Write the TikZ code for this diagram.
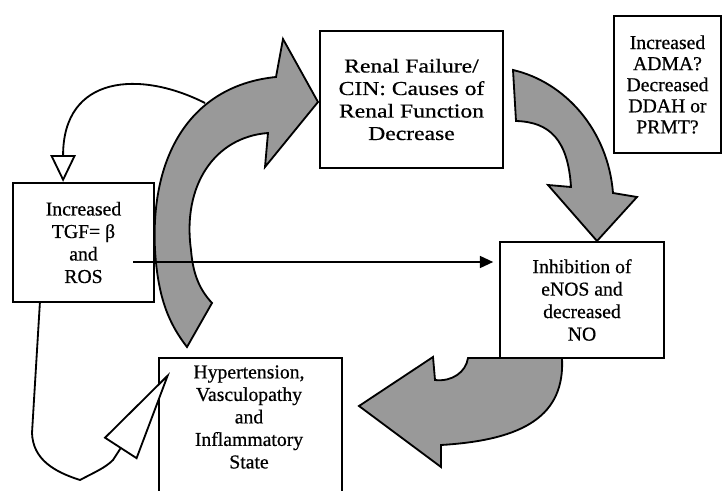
\documentclass[tikz,border=0pt]{standalone}
\usepackage{fontspec}
\setmainfont{Liberation Serif}[FakeBold=0.6]
\newfontfamily\widefont{Liberation Serif}[FakeBold=0.6, FakeStretch=1.2]
\usetikzlibrary{arrows.meta}

\tikzset{
  txt/.style={align=center, font=\fontsize{14}{16}\selectfont},
  box/.style={txt, draw, fill=white, line width=1.6pt},
  bigarrow/.style={fill=black!40, draw=black, line width=1.3pt},
  link/.style={line width=1.3pt}
}

\begin{document}
\begin{tikzpicture}[x=0.025cm, y=-0.025cm]
  \useasboundingbox (0,0) rectangle (722,491);
  \clip (0,0) rectangle (722,491);

  \filldraw[bigarrow] (187,347) .. controls (170,325) and (158,300) .. (155,250)
    .. controls (150,150) and (195,85) .. (276,77) -- (283,39) -- (318,102) -- (265,167) -- (268,133)
    .. controls (215,137) and (182,185) .. (191,250) .. controls (193,275) and (200,290) .. (212,303) -- cycle;
  \filldraw[bigarrow] (513,70) .. controls (565,82) and (608,130) .. (613,193) -- (637,197) -- (597,241)
    -- (548,185) -- (571,187) .. controls (568,140) and (550,122) .. (516,121) -- cycle;
  \filldraw[bigarrow] (359,406) -- (433,357) -- (435,380) .. controls (452,382) and (466,372) .. (468,358)
    -- (562,358) .. controls (565,415) and (525,440) .. (441,445) -- (441,467) -- cycle;

  \node[box, minimum width=4.575cm, minimum height=3.425cm, font=\widefont\fontsize{14}{16}\selectfont] (renal) at (411.5,99.5) {Renal Failure/\\CIN: Causes of\\Renal Function\\Decrease};
  \node[box, minimum width=2.675cm, minimum height=3.425cm, font=\fontsize{14}{15}\selectfont] (adma) at (667.5,84.5) {Increased\\ADMA?\\Decreased\\DDAH or\\PRMT?};
  \node[box, minimum width=3.525cm, minimum height=2.975cm] (tgf) at (83.5,242.5) {Increased\\TGF= β\\and\\ROS};
  \node[box, minimum width=4.1cm, minimum height=2.9cm] (inhib) at (582,300) {Inhibition of\\eNOS and\\decreased\\NO};
  \node[box, minimum width=4.575cm, minimum height=4cm, anchor=north west] (hyp) at (158,357) {};
  \node[txt] (hyptext) at (249,417) {Hypertension,\\Vasculopathy\\and\\Inflammatory\\State};

  \coordinate (loopstart) at (205,103);
  \coordinate (hstart) at (133,262);
  \draw[link, -{Triangle[fill=white, length=19pt, width=18pt]}] (loopstart) .. controls (140,70) and (63,75) .. ([xshift=-0.51cm]tgf.north);
  \draw[link, -{Triangle[length=9.5pt, width=8.5pt]}, shorten >=4pt] (hstart) -- (hstart -| inhib.west);
  \draw[link, -{Triangle[fill=white, length=65pt, width=28pt]}] ([xshift=0.7cm]tgf.south west) -- (32,433)
    .. controls (33,460) and (55,472) .. (80,480) .. controls (95,472) and (105,468) .. (113,460)
    -- ([xshift=0.3cm, yshift=-0.375cm]hyp.north west);
\end{tikzpicture}
\end{document}
